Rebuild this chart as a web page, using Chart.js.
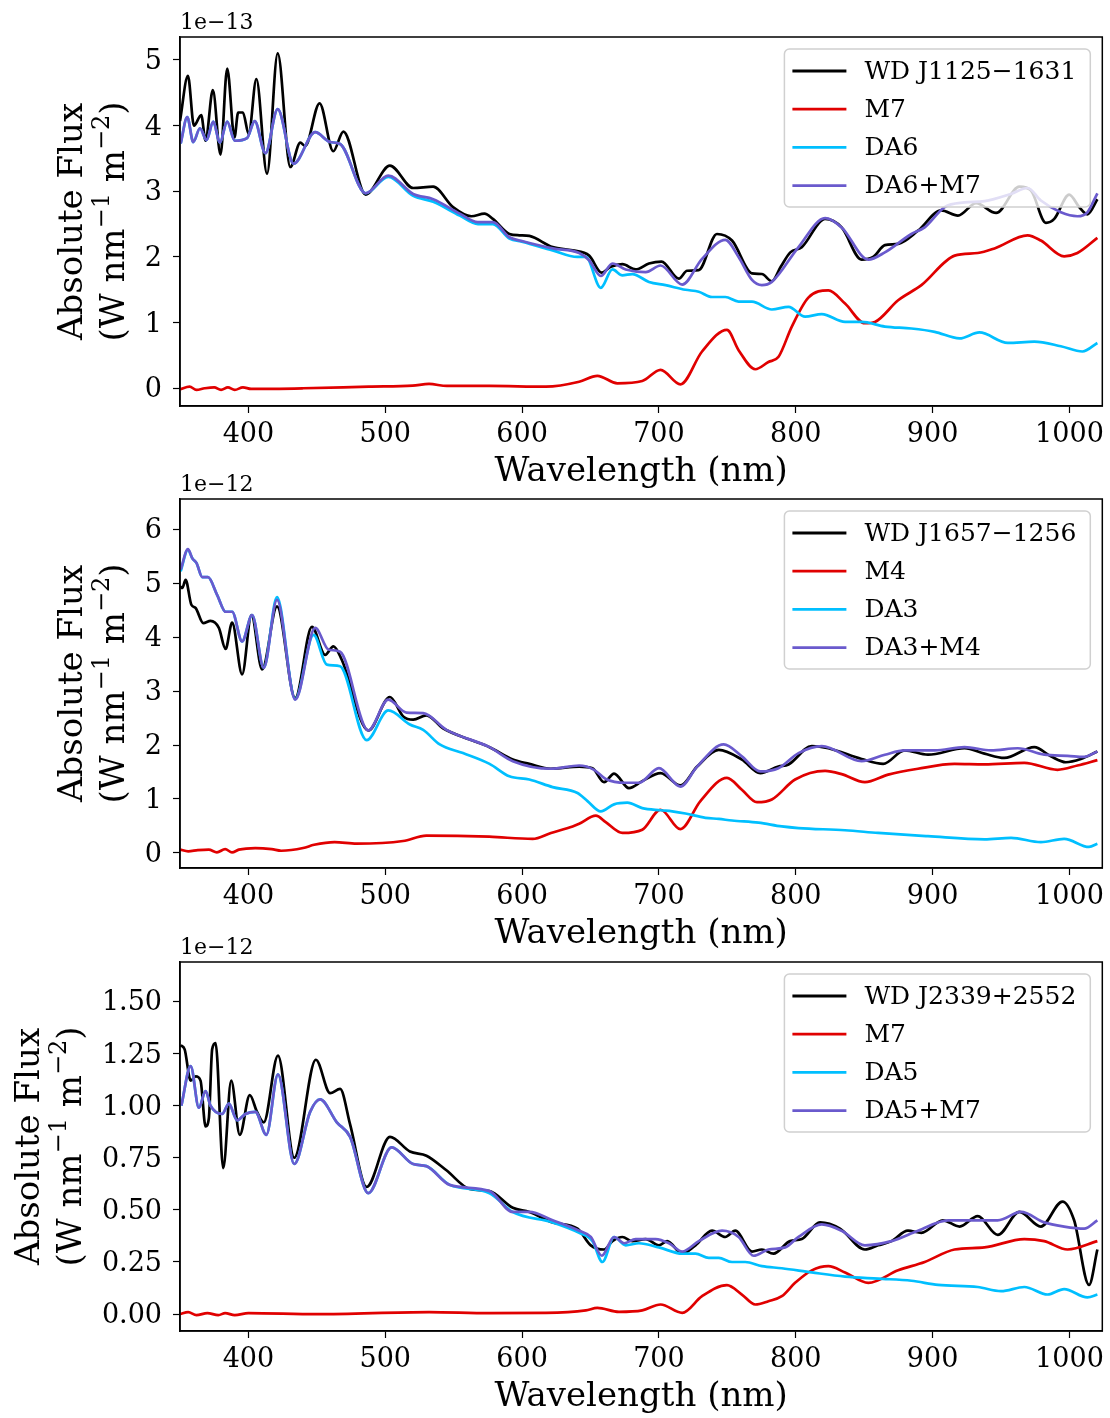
<!DOCTYPE html>
<html>
<head>
<meta charset="utf-8">
<script src="https://cdn.jsdelivr.net/npm/chart.js@4.4.1/dist/chart.umd.min.js"></script>
<style>
  body { margin: 0; background: #fff; }
  .panel { position: absolute; left: 0; width: 1110px; height: 490px; }
</style>
</head>
<body>
<div class="panel" style="top:0px"><canvas id="p1" width="1110" height="490"></canvas></div>
<div class="panel" style="top:462px"><canvas id="p2" width="1110" height="490"></canvas></div>
<div class="panel" style="top:925px"><canvas id="p3" width="1110" height="490"></canvas></div>
<script>
// wavelength (nm), flux in units of the panel's offset (1e-13 / 1e-12)
const xTicks = [400, 500, 600, 700, 800, 900, 1000];

// panel 1 : WD J1125-1631
const p1Names = ['WD J1125\u22121631', 'M7', 'DA6', 'DA6+M7'];
const p1Offset = '1e\u221213';
const p1YTicks = [0, 1, 2, 3, 4, 5];
const p1Wd = [[350,4.07],[355.8,4.76],[360.2,4.0],[365.5,4.16],[368.7,3.77],[374,4.54],[379.6,3.56],[384.5,4.87],[389.8,3.82],[392.5,4.2],[396,4.2],[400.2,3.87],[405.8,4.71],[413.6,3.27],[421.4,5.10],[430.6,3.37],[437.9,3.74],[441.5,3.69],[452,4.34],[462,3.61],[469.4,3.91],[485.7,2.95],[503.4,3.39],[520.4,3.05],[535,3.07],[549.5,2.76],[562.9,2.62],[572.5,2.66],[578.6,2.58],[590.7,2.35],[598,2.33],[605.3,2.32],[622.3,2.15],[636.9,2.10],[649,2.02],[658.2,1.76],[664.8,1.85],[673.3,1.89],[683,1.81],[692.7,1.90],[701.9,1.93],[714.5,1.67],[720.6,1.79],[729.1,1.80],[742.4,2.35],[753.4,2.25],[768,1.75],[775.2,1.74],[782.5,1.63],[789,1.85],[796,2.07],[804.4,2.15],[821.4,2.58],[833.5,2.45],[848.1,1.96],[856.6,2.0],[865.1,2.18],[874.8,2.20],[889.3,2.40],[906.3,2.71],[918.5,2.63],[931.8,2.82],[946.4,2.67],[963.4,3.07],[971.9,3.01],[982.8,2.52],[988.9,2.58],[999.8,2.95],[1007.1,2.76],[1013.1,2.65],[1020.4,2.88]];
const p1M = [[350,-0.015],[357,0.025],[362,-0.025],[368,0.0],[375,0.015],[380,-0.025],[385,0.015],[390,-0.025],[396,0.015],[402,-0.01],[440,0.0],[488,0.025],[520,0.04],[532,0.066],[545,0.035],[576,0.035],[617.4,0.025],[641.7,0.10],[655,0.19],[669.6,0.076],[687.8,0.11],[701.2,0.28],[715.7,0.06],[731.5,0.56],[749.7,0.89],[758.2,0.58],[770.4,0.29],[780,0.40],[787.4,0.48],[797.1,0.94],[809.2,1.38],[823.8,1.49],[836,1.29],[850.5,0.99],[857.8,1.01],[874.8,1.34],[891.8,1.57],[916.1,2.02],[933,2.06],[945.2,2.13],[969.4,2.33],[979.1,2.25],[996.1,2.01],[1005.8,2.06],[1020.4,2.29]];
const p1Da = [[350.5,3.73],[355.3,4.13],[359.7,3.75],[364.6,3.96],[369.4,3.78],[374.3,4.06],[379.1,3.74],[384.5,4.06],[390,3.77],[399,3.81],[404.6,4.07],[412.4,3.58],[421.4,4.25],[433,3.42],[448.8,3.90],[459.7,3.75],[467,3.72],[485.7,2.97],[502.2,3.22],[520.4,2.93],[535,2.84],[554.4,2.63],[567.7,2.50],[578.6,2.50],[590.7,2.28],[600.5,2.23],[622.3,2.10],[640.3,2.0],[646.6,2.0],[657.5,1.53],[666,1.81],[673.3,1.72],[680.5,1.74],[692.7,1.62],[704.8,1.57],[719.4,1.50],[729.1,1.47],[738.8,1.39],[748.5,1.39],[758.2,1.32],[768,1.32],[782.5,1.20],[794.7,1.24],[806.8,1.09],[819,1.13],[836,1.01],[848.1,1.01],[865.1,0.94],[884.5,0.91],[901.5,0.86],[919.7,0.76],[934.2,0.85],[954.9,0.69],[974.3,0.71],[993.7,0.64],[1009.5,0.56],[1020.4,0.69]];
const p1Fit = [[350.5,3.73],[355.3,4.13],[359.7,3.75],[364.6,3.96],[369.4,3.78],[374.3,4.06],[379.1,3.74],[384.5,4.06],[390,3.77],[399,3.81],[404.6,4.07],[412.4,3.58],[421.4,4.25],[433,3.42],[448.8,3.90],[459.7,3.75],[467,3.72],[485.7,2.97],[502.2,3.24],[520.4,2.96],[535,2.88],[554.4,2.66],[567.7,2.53],[578.6,2.53],[590.7,2.30],[600.5,2.24],[622.3,2.13],[641.7,2.06],[649,1.95],[657.5,1.71],[666,1.90],[675.7,1.81],[690.3,1.77],[701.2,1.87],[717,1.58],[731.5,1.97],[748.5,2.26],[758.2,2.0],[768,1.65],[775.2,1.57],[782.5,1.62],[802,2.15],[821.4,2.59],[833.5,2.45],[853,1.96],[865.1,2.07],[884.5,2.35],[894.2,2.45],[908.8,2.76],[923.3,2.83],[937.9,2.85],[957.3,2.96],[969.4,3.05],[979.1,2.86],[993.7,2.68],[1005.8,2.62],[1013.1,2.68],[1020.4,2.97]];

// panel 2 : WD J1657-1256
const p2Names = ['WD J1657\u22121256', 'M4', 'DA3', 'DA3+M4'];
const p2Offset = '1e\u221212';
const p2YTicks = [0, 1, 2, 3, 4, 5, 6];
const p2Wd = [[350,4.94],[351.7,4.91],[354.1,5.06],[358.3,4.60],[361.4,4.54],[367,4.26],[372.3,4.30],[378.4,4.17],[383.3,3.78],[388.1,4.27],[395.4,3.31],[402.2,4.41],[410,3.40],[420.9,4.57],[434.2,2.87],[446.4,4.19],[456.1,3.67],[462.1,3.83],[468.2,3.58],[487.6,2.27],[503.4,2.89],[513.1,2.53],[520.4,2.47],[530.1,2.55],[542.2,2.31],[561.7,2.10],[576.2,1.96],[593.2,1.73],[605.3,1.65],[621.1,1.56],[641.7,1.60],[651.4,1.57],[659.9,1.31],[667.2,1.47],[678.1,1.20],[687.8,1.33],[701.2,1.48],[715.7,1.25],[727.9,1.60],[743.7,1.91],[760.6,1.73],[774,1.48],[787.3,1.60],[794.7,1.64],[811.7,1.98],[823.8,1.94],[848.1,1.74],[863.9,1.65],[879.6,1.90],[896.6,1.82],[923.3,1.94],[937.9,1.84],[952.4,1.76],[974.3,1.96],[986.4,1.79],[997.3,1.68],[1008.3,1.74],[1020.4,1.88]];
const p2M = [[350,0.06],[356,0.03],[363,0.05],[371,0.06],[377,0.01],[383,0.07],[388,0.01],[393,0.06],[405,0.09],[417,0.07],[424,0.04],[440,0.09],[448,0.15],[463,0.2],[479,0.17],[513,0.22],[530,0.32],[576,0.3],[607.7,0.26],[621.1,0.37],[636.9,0.49],[641.7,0.54],[653.9,0.69],[661.1,0.57],[673.3,0.37],[687.8,0.43],[701.2,0.80],[715.7,0.44],[730.3,0.96],[749.7,1.39],[760.6,1.17],[771.6,0.94],[782.5,0.99],[799.5,1.36],[821.4,1.52],[833.5,1.46],[850.5,1.31],[867.5,1.45],[889.3,1.56],[916,1.65],[937.9,1.64],[967,1.67],[991.3,1.54],[1005.8,1.62],[1020.4,1.72]];
const p2Da = [[350.5,5.22],[355.8,5.62],[359,5.46],[362.1,5.37],[366.3,5.11],[370.4,5.11],[377.2,4.78],[383.3,4.47],[388.1,4.47],[395.4,3.92],[402.7,4.41],[411.2,3.43],[420.9,4.74],[434.2,2.85],[447.6,4.04],[457.3,3.49],[467,3.46],[486.4,2.09],[502.2,2.64],[518,2.38],[527.7,2.28],[539.8,2.01],[556.8,1.85],[576.2,1.65],[590.7,1.42],[605.3,1.36],[622.3,1.22],[640.5,1.11],[647.8,0.96],[657.5,0.77],[667.2,0.90],[676.9,0.93],[687.8,0.83],[701.2,0.79],[709.7,0.77],[719.4,0.73],[734,0.65],[743.7,0.63],[753.4,0.60],[772.8,0.56],[789.8,0.49],[802,0.46],[836,0.42],[860.2,0.37],[896.6,0.31],[937.9,0.25],[957.3,0.28],[979.1,0.20],[996.1,0.26],[1014.3,0.11],[1020.4,0.17]];
const p2Fit = [[350.5,5.25],[355.8,5.63],[359,5.46],[362.1,5.37],[366.3,5.11],[370.4,5.11],[377.2,4.78],[383.3,4.47],[388.1,4.47],[395.4,3.92],[402.7,4.41],[411.2,3.43],[420.9,4.69],[434.2,2.84],[448.8,4.17],[458.5,3.77],[467,3.73],[487.6,2.27],[502.2,2.84],[515.5,2.60],[527.7,2.59],[544.7,2.28],[576.2,1.96],[593.2,1.70],[621.1,1.56],[641.7,1.62],[652.6,1.54],[661.1,1.37],[675.7,1.30],[685.4,1.30],[700,1.57],[715.7,1.23],[727.9,1.60],[747.3,2.01],[760.6,1.79],[774,1.51],[787.3,1.57],[802,1.85],[819,1.98],[848.1,1.70],[865.1,1.82],[879.6,1.90],[901.5,1.90],[923.3,1.96],[942.7,1.90],[962.2,1.94],[981.6,1.82],[998.6,1.80],[1010.7,1.78],[1020.4,1.88]];

// panel 3 : WD J2339+2552
const p3Names = ['WD J2339+2552', 'M7', 'DA5', 'DA5+M7'];
const p3Offset = '1e\u221212';
const p3YTicks = [0, 0.25, 0.5, 0.75, 1.0, 1.25, 1.5];
const p3Wd = [[350.5,1.29],[353.4,1.27],[357.8,1.12],[361.4,1.14],[365,1.12],[368.7,0.90],[371.1,0.94],[373.5,1.27],[376,1.30],[381.6,0.70],[387.4,1.12],[393.7,0.86],[401,1.05],[406.3,0.97],[411.2,0.92],[421.6,1.24],[433.5,0.75],[449.3,1.22],[459.7,1.06],[467,1.08],[474.3,0.91],[486.4,0.61],[503.4,0.85],[518,0.78],[530.1,0.76],[544.7,0.69],[561.7,0.60],[576.2,0.59],[593.2,0.51],[605.3,0.49],[622.3,0.44],[640.5,0.41],[650.2,0.33],[659.9,0.31],[666,0.35],[673.3,0.37],[680.5,0.35],[690.3,0.36],[700,0.33],[706,0.35],[717,0.29],[726.7,0.33],[738.8,0.40],[748.5,0.37],[755.8,0.40],[768,0.30],[775.2,0.31],[783.7,0.29],[795.8,0.35],[804.4,0.36],[817.7,0.44],[832.3,0.41],[850.5,0.31],[860.2,0.33],[869.9,0.35],[882,0.40],[891.8,0.39],[907.5,0.45],[919.7,0.42],[933,0.47],[947.6,0.38],[963.4,0.49],[979.1,0.42],[994.9,0.54],[1003.4,0.45],[1014.3,0.14],[1020.4,0.31]];
const p3M = [[350,0.0],[356,0.01],[362,-0.005],[370,0.005],[378,-0.005],[383,0.005],[390,-0.005],[400,0.005],[450,0.0],[532,0.01],[576,0.005],[617.4,0.006],[646.6,0.018],[655,0.03],[670.8,0.011],[687.8,0.018],[701.2,0.046],[717,0.006],[731.5,0.086],[749.7,0.139],[760.6,0.094],[770.4,0.046],[780,0.062],[789.8,0.086],[799.5,0.15],[811.7,0.21],[823.8,0.23],[836,0.20],[853,0.15],[874.8,0.21],[894.2,0.25],[916,0.31],[937.9,0.32],[967,0.36],[981.6,0.35],[998.6,0.31],[1020.4,0.35]];
const p3Da = [[351,1.00],[357.8,1.19],[363.8,0.99],[368.7,1.07],[372.3,1.00],[380.8,0.96],[385.7,1.01],[391.7,0.93],[397.8,0.96],[405.1,0.97],[413.1,0.86],[421.6,1.15],[433.5,0.72],[445.1,0.97],[452.4,1.03],[464.6,0.92],[474.3,0.85],[487.6,0.58],[504.6,0.80],[520.4,0.72],[530.1,0.71],[547.1,0.62],[576.2,0.58],[593.2,0.49],[622.3,0.44],[641.7,0.39],[651.4,0.35],[658.7,0.25],[667.2,0.37],[675.7,0.33],[685.4,0.34],[700,0.32],[717,0.29],[726.7,0.29],[736.4,0.27],[743.7,0.27],[753.4,0.25],[763.1,0.25],[775.2,0.23],[789.8,0.22],[811.7,0.20],[836,0.18],[860.2,0.17],[884.5,0.16],[904,0.14],[933,0.13],[950,0.11],[967,0.13],[984,0.094],[996.1,0.12],[1013.1,0.08],[1020.4,0.094]];
const p3Fit = [[351,1.00],[357.8,1.19],[363.8,0.99],[368.7,1.07],[372.3,1.00],[380.8,0.96],[385.7,1.01],[391.7,0.93],[397.8,0.96],[405.1,0.97],[413.1,0.86],[421.6,1.15],[433.5,0.72],[445.1,0.97],[452.4,1.03],[464.6,0.92],[474.3,0.85],[487.6,0.58],[504.6,0.80],[520.4,0.72],[530.1,0.71],[547.1,0.62],[576.2,0.59],[593.2,0.49],[605.3,0.49],[622.3,0.45],[641.7,0.40],[650.2,0.37],[658.2,0.28],[667.2,0.37],[674.5,0.34],[683,0.36],[697.5,0.36],[707.3,0.34],[717,0.30],[729.1,0.35],[746.1,0.40],[758.2,0.37],[769.2,0.28],[780,0.31],[792.2,0.32],[802,0.37],[819,0.43],[833.5,0.40],[850.5,0.33],[869.9,0.35],[889.3,0.40],[911.2,0.45],[930.6,0.45],[947.6,0.45],[964.6,0.49],[981.6,0.44],[996.1,0.42],[1010.7,0.41],[1020.4,0.45]];

const colores = ['#000000', '#e00000', '#00bfff', '#6a5acd'];
const FONT = '"DejaVu Serif", "Liberation Serif", serif';

// y label with real superscripts, frame, offset text and legend box
const marcoPlugin = {
  id: 'marco',
  afterDraw(chart, args, opts) {
    const { ctx, chartArea: a } = chart;
    ctx.save();
    ctx.strokeStyle = '#000';
    ctx.lineWidth = 1.5;
    ctx.strokeRect(a.left, a.top, a.right - a.left, a.bottom - a.top);

    ctx.fillStyle = '#000';
    ctx.font = '22px ' + FONT;
    ctx.textAlign = 'left';
    ctx.textBaseline = 'alphabetic';
    ctx.fillText(opts.offset, a.left, a.top - 8);

    // y axis label, two lines, rotated
    const fs = 34, sup = 24;
    ctx.save();
    ctx.translate(opts.titleX, (a.top + a.bottom) / 2);
    ctx.rotate(-Math.PI / 2);
    ctx.textBaseline = 'middle';
    ctx.textAlign = 'center';
    ctx.font = fs + 'px ' + FONT;
    ctx.fillText('Absolute Flux', 0, 0);
    const partes = [['(W nm', fs], ['\u22121', sup], [' m', fs], ['\u22122', sup], [')', fs]];
    let total = 0;
    partes.forEach(p => { ctx.font = p[1] + 'px ' + FONT; total += ctx.measureText(p[0]).width; });
    let px = -total / 2;
    ctx.textAlign = 'left';
    partes.forEach(p => {
      ctx.font = p[1] + 'px ' + FONT;
      ctx.fillText(p[0], px, p[1] === fs ? 42 : 42 - 12);
      px += ctx.measureText(p[0]).width;
    });
    ctx.restore();

    // legend
    ctx.font = '25px ' + FONT;
    const maxW = Math.max(...chart.data.datasets.map(d => ctx.measureText(d.label).width));
    const w = 80 + maxW + 14;
    const h = 158;
    const right = a.right - 12;
    const left = right - w;
    const top = a.top + 12;
    ctx.beginPath();
    ctx.roundRect(left, top, w, h, 5);
    ctx.fillStyle = 'rgba(255,255,255,0.8)';
    ctx.fill();
    ctx.strokeStyle = '#d0d0d0';
    ctx.lineWidth = 1.5;
    ctx.stroke();
    chart.data.datasets.forEach((d, i) => {
      const cy = top + 22 + i * 38.2;
      ctx.strokeStyle = d.borderColor;
      ctx.lineWidth = 2.8;
      ctx.beginPath();
      ctx.moveTo(left + 8, cy);
      ctx.lineTo(left + 62, cy);
      ctx.stroke();
      ctx.fillStyle = '#000';
      ctx.textBaseline = 'middle';
      ctx.textAlign = 'left';
      ctx.fillText(d.label, left + 80, cy + 1);
    });
    ctx.restore();
  }
};

function crearPanel(id, nombres, series, yTicks, yMin, yMax, offset, decimales, titleX) {
  const ctx = document.getElementById(id).getContext('2d');
  return new Chart(ctx, {
    type: 'line',
    data: {
      datasets: series.map((s, i) => ({
        label: nombres[i],
        data: s.map(p => ({ x: p[0], y: p[1] })),
        borderColor: colores[i],
        borderWidth: 2.7,
        pointRadius: 0,
        fill: false,
        cubicInterpolationMode: 'monotone',
        order: 4 - i
      }))
    },
    options: {
      responsive: false,
      animation: false,
      events: [],
      layout: { padding: { top: 37, right: 5, left: 0, bottom: 0 } },
      scales: {
        x: {
          type: 'linear',
          min: 350, max: 1024,
          afterFit: s => { s.height = 84; },
          afterBuildTicks: s => { s.ticks = xTicks.map(v => ({ value: v })); },
          grid: { drawOnChartArea: false, drawTicks: true, tickLength: 7, color: '#000', tickWidth: 1.2 },
          border: { display: true, color: '#000', width: 1.5 },
          ticks: { color: '#000', font: { family: FONT, size: 27 }, padding: 6, maxRotation: 0, callback: v => String(v) },
          title: { display: true, text: 'Wavelength (nm)', color: '#000', font: { family: FONT, size: 34, lineHeight: 1.0 }, padding: { top: 0, bottom: 1 } }
        },
        y: {
          type: 'linear',
          min: yMin, max: yMax,
          afterFit: s => { s.width = 180; },
          afterBuildTicks: s => { s.ticks = yTicks.map(v => ({ value: v })); },
          grid: { drawOnChartArea: false, drawTicks: true, tickLength: 7, color: '#000', tickWidth: 1.2 },
          border: { display: true, color: '#000', width: 1.5 },
          ticks: { color: '#000', font: { family: FONT, size: 27 }, padding: 11, labelOffset: 2, callback: v => v.toFixed(decimales) },
          title: { display: false }
        }
      },
      plugins: {
        legend: { display: false },
        tooltip: { enabled: false },
        marco: { offset: offset, titleX: titleX }
      }
    },
    plugins: [marcoPlugin]
  });
}

crearPanel('p1', p1Names, [p1Wd, p1M, p1Da, p1Fit], p1YTicks, -0.27, 5.35, p1Offset, 0, 73);
crearPanel('p2', p2Names, [p2Wd, p2M, p2Da, p2Fit], p2YTicks, -0.28, 6.56, p2Offset, 0, 73);
crearPanel('p3', p3Names, [p3Wd, p3M, p3Da, p3Fit], p3YTicks, -0.081, 1.689, p3Offset, 2, 30);
</script>
</body>
</html>
